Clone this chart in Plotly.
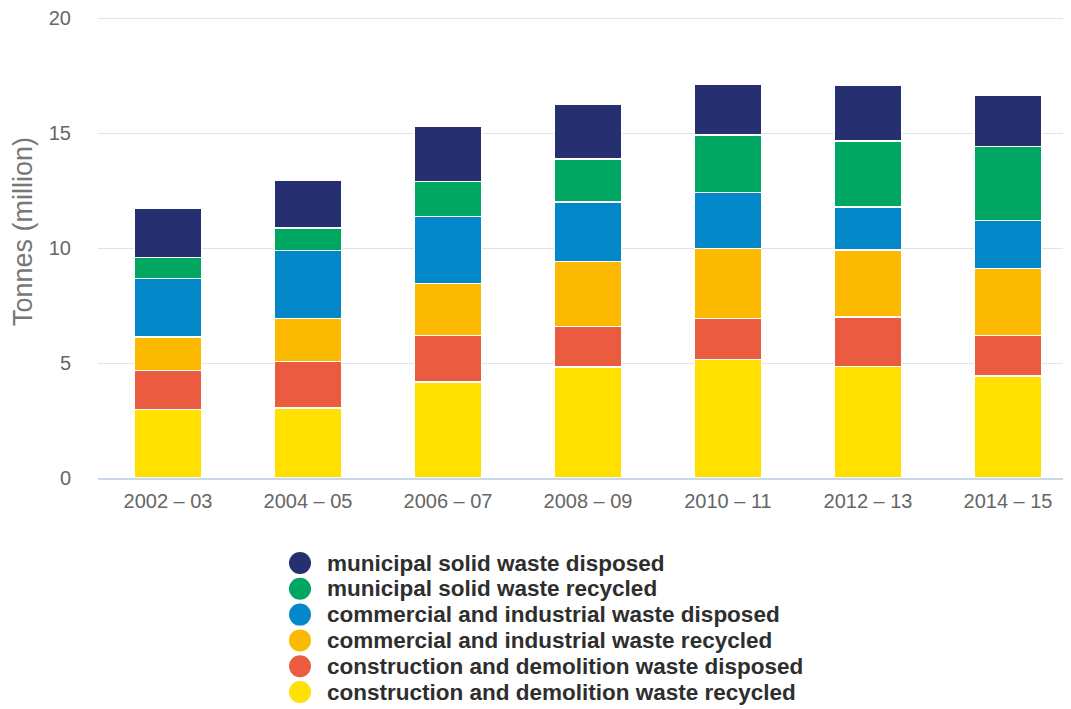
import plotly.graph_objects as go

periods = ["2002 – 03", "2004 – 05", "2006 – 07", "2008 – 09", "2010 – 11", "2012 – 13", "2014 – 15"]

cd_recycled = [2.98, 3.05, 4.18, 4.83, 5.15, 4.86, 4.43]
cd_disposed = [1.69, 2.02, 2.02, 1.76, 1.78, 2.14, 1.77]
ci_recycled = [1.47, 1.86, 2.26, 2.84, 3.05, 2.93, 2.91]
ci_disposed = [2.53, 2.97, 2.92, 2.57, 2.45, 1.86, 2.10]
msw_recycled = [0.92, 0.98, 1.51, 1.88, 2.49, 2.88, 3.22]
msw_disposed = [2.16, 2.07, 2.41, 2.39, 2.23, 2.41, 2.24]

y_ticks = [0, 5, 10, 15, 20]
y_title = "Tonnes (million)"

series_names = [
    "construction and demolition waste recycled",
    "construction and demolition waste disposed",
    "commercial and industrial waste recycled",
    "commercial and industrial waste disposed",
    "municipal solid waste recycled",
    "municipal solid waste disposed",
]
series_values = [cd_recycled, cd_disposed, ci_recycled, ci_disposed, msw_recycled, msw_disposed]
series_colors = ["#ffe000", "#ea5b3f", "#fbb900", "#0287c9", "#00a762", "#262f6f"]

W, H = 1063, 701
ML, MR, MT, MB = 90, 0, 8, 231
PW, PH = W - ML - MR, H - MT - MB

fig = go.Figure()
for name, vals, col in zip(series_names, series_values, series_colors):
    fig.add_trace(go.Bar(
        x=periods, y=vals, name=name,
        marker=dict(color=col, line=dict(color="white", width=1.5)),
        width=0.48, showlegend=False,
    ))

# custom legend (top row = last series)
leg_top = 555      # figure px, centre of first row
leg_step = 25.8
circle_x = 292
text_x = 317
annotations = []
shapes = []
for i, (name, col) in enumerate(zip(reversed(series_names), reversed(series_colors))):
    yc = leg_top + i * leg_step
    ypaper = (H - MB - yc) / PH
    shapes.append(dict(
        type="circle", xref="paper", yref="paper", xsizemode="pixel", ysizemode="pixel",
        xanchor=(circle_x - ML) / PW, yanchor=ypaper,
        x0=-11, x1=11, y0=-11, y1=11,
        fillcolor=col, line=dict(width=0),
    ))
    annotations.append(dict(
        xref="paper", yref="paper", x=(text_x - ML) / PW, y=ypaper,
        xanchor="left", yanchor="middle", showarrow=False, text="<b>" + name + "</b>",
        font=dict(size=22.5, color="#2e2e2e", family="Liberation Sans, Arial, sans-serif"),
    ))

# y-axis title
annotations.append(dict(
    xref="paper", yref="paper", x=(15 - ML) / PW, y=(H - MB - 224) / PH,
    xanchor="center", yanchor="middle", showarrow=False, textangle=-90, text=y_title,
    font=dict(size=27, color="#777777", family="Liberation Sans, Arial, sans-serif"),
))

fig.update_layout(
    width=W, height=H,
    barmode="stack",
    plot_bgcolor="white", paper_bgcolor="white",
    margin=dict(l=ML, r=MR, t=MT, b=MB, autoexpand=False),
    font=dict(family="Liberation Sans, Arial, sans-serif", color="#666666", size=20),
    showlegend=False,
    shapes=shapes,
    annotations=annotations,
    xaxis=dict(
        range=[-0.5, 6.45], showgrid=False, showline=True, linecolor="#ccd6eb", linewidth=2,
        ticks="", tickfont=dict(size=20, color="#666666"), ticklabelstandoff=4,
    ),
    yaxis=dict(
        range=[0, 20.1], tickvals=y_ticks, showgrid=True, gridcolor="#e3e3e3", gridwidth=1,
        zeroline=False, tickfont=dict(size=20, color="#666666"), ticklabelstandoff=26,
        ticklabeloverflow="allow",
    ),
)

fig.write_html("out.html")
